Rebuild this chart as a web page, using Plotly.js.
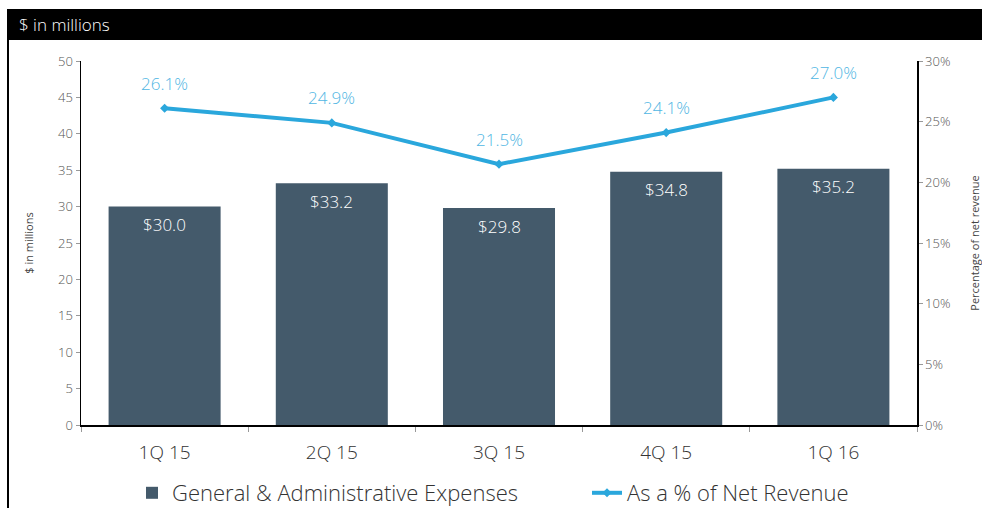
<!DOCTYPE html>
<html>
<head>
<meta charset="utf-8">
<script src="https://cdn.plot.ly/plotly-3.0.1.min.js"></script>
<style>html,body{margin:0;padding:0;background:#fff;}#chart{width:982px;height:508px;}</style>
</head>
<body>
<div id="chart"></div>
<script>
const categories = ["1Q 15", "2Q 15", "3Q 15", "4Q 15", "1Q 16"];
const gaExpenses = [30.0, 33.2, 29.8, 34.8, 35.2];
const pctNetRevenue = [26.1, 24.9, 21.5, 24.1, 27.0];
const barLabels = ["$30.0", "$33.2", "$29.8", "$34.8", "$35.2"];
const pctLabels = ["26.1%", "24.9%", "21.5%", "24.1%", "27.0%"];
const leftTicks = [0, 5, 10, 15, 20, 25, 30, 35, 40, 45, 50];
const rightTicks = [0, 5, 10, 15, 20, 25, 30];

const FONT = "Open Sans, Lato, sans-serif";
const BAR = "#445a6b";
const LINE = "#2aa7dc";
const LBL = "#4fb6e3";

const traces = [
  {
    type: "bar", x: categories, y: gaExpenses, name: "General & Administrative Expenses",
    marker: {color: BAR}, width: 0.67, hoverinfo: "skip", legend: "legend"
  },
  {
    type: "scatter", mode: "lines+markers", x: categories, y: pctNetRevenue, yaxis: "y2",
    name: "As a % of Net Revenue", legend: "legend2",
    line: {color: LINE, width: 4}, marker: {symbol: "diamond", size: 7, color: LINE}, hoverinfo: "skip"
  }
];

const L = 81, R = 917, T = 61, B = 425;
const px = v => (v - L) / (R - L);
const py = v => (B - v) / (B - T);

const annotations = [];
categories.forEach((c, i) => {
  annotations.push({x: c, y: gaExpenses[i], xref: "x", yref: "y", text: barLabels[i], showarrow: false,
    yshift: -18, font: {family: FONT, size: 17, color: "#ffffff", weight: 300}});
  annotations.push({x: c, y: pctNetRevenue[i], xref: "x", yref: "y2", text: pctLabels[i], showarrow: false,
    yshift: 25, font: {family: FONT, size: 17, color: LBL, weight: 300}});
});
annotations.push({xref: "paper", yref: "paper", x: px(17), y: py(25), xanchor: "left", yanchor: "middle",
  text: "$ in millions", showarrow: false, font: {family: FONT, size: 17, color: "#ffffff", weight: 300}});

const legendFont = {family: FONT, size: 22, color: "#333", weight: 300};

const layout = {
  width: 982, height: 508,
  margin: {l: L, r: 982 - R, t: T, b: 508 - B, autoexpand: false},
  paper_bgcolor: "#ffffff", plot_bgcolor: "#ffffff",
  font: {family: FONT, color: "#555"},
  showlegend: true,
  legend: {orientation: "h", x: px(132), xanchor: "left", y: py(493), yanchor: "middle",
    font: legendFont, bgcolor: "rgba(0,0,0,0)"},
  legend2: {orientation: "h", x: px(587), xanchor: "left", y: py(493), yanchor: "middle",
    font: legendFont, itemwidth: 30, bgcolor: "rgba(0,0,0,0)"},
  xaxis: {
    type: "category", range: [-0.5, 4.5], showline: true, linecolor: "#000", linewidth: 1.5,
    ticks: "outside", tickson: "boundaries", ticklen: 5, tickcolor: "#999", ticklabelstandoff: 10,
    tickfont: {family: FONT, size: 19, color: "#333", weight: 300}, showgrid: false, zeroline: false,
    automargin: false
  },
  yaxis: {
    range: [0, 50], tickvals: leftTicks, ticktext: leftTicks.map(String),
    showline: true, linecolor: "#000", linewidth: 1.5, ticks: "outside", ticklen: 4, tickcolor: "#999",
    tickfont: {family: FONT, size: 13, color: "#555", weight: 300}, showgrid: false, zeroline: false,
    automargin: true,
    title: {text: "$ in millions", font: {family: FONT, size: 11, color: "#444"}, standoff: 22}
  },
  yaxis2: {
    range: [0, 30], overlaying: "y", side: "right", tickvals: rightTicks,
    ticktext: rightTicks.map(v => v + "%"),
    showline: true, linecolor: "#000", linewidth: 1.5, ticks: "outside", ticklen: 4, tickcolor: "#999",
    tickfont: {family: FONT, size: 13, color: "#555", weight: 300}, showgrid: false, zeroline: false,
    automargin: true,
    title: {text: "Percentage of net revenue", font: {family: FONT, size: 11, color: "#444"}, standoff: 22}
  },
  shapes: [
    {type: "rect", xref: "paper", yref: "paper", x0: px(7), x1: px(982), y0: py(40), y1: py(9),
      fillcolor: "#000", line: {width: 0}, layer: "above"},
    {type: "line", xref: "paper", yref: "paper", x0: px(8), x1: px(8), y0: py(40), y1: py(508),
      line: {color: "#000", width: 2}}
  ],
  annotations: annotations
};

Plotly.newPlot("chart", traces, layout, {displayModeBar: false, staticPlot: true});
</script>
</body>
</html>
